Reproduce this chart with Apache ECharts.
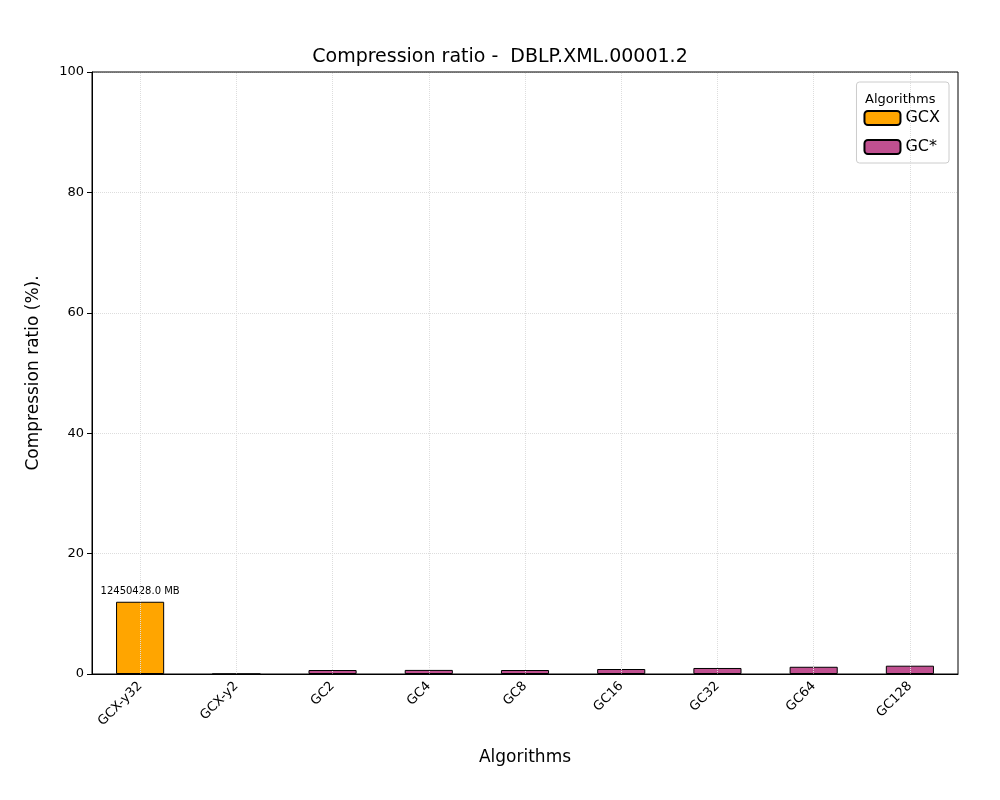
<!DOCTYPE html>
<html>
<head>
<meta charset="utf-8">
<script src="https://cdn.jsdelivr.net/npm/echarts@6/dist/echarts.min.js"></script>
<style>html,body{margin:0;padding:0;background:#fff}#main{width:1000px;height:800px}</style>
</head>
<body>
<div id="main"></div>
<script>
var categories = ['GCX-y32','GCX-y2','GC2','GC4','GC8','GC16','GC32','GC64','GC128'];
var gcxValues = [12.0, 0, '-', '-', '-', '-', '-', '-', '-'];
var gcStarValues = ['-', '-', 0.66, 0.68, 0.66, 0.83, 1.0, 1.2, 1.38];
var barLabels = ['12450428.0 MB', '', '', '', '', '', '', '', ''];

var chart = echarts.init(document.getElementById('main'));
var font = 'DejaVu Sans';
chart.setOption({
    textStyle: {fontFamily: font},
    animation: false,
    title: [
        {text: 'Compression ratio -  DBLP.XML.00001.2', left: 'center', top: 43,
         textStyle: {fontSize: 19, fontWeight: 'normal', color: '#000', fontFamily: font}},
        {text: 'Algorithms', left: 860, top: 88,
         textStyle: {fontSize: 13, fontWeight: 'normal', color: '#000', fontFamily: font}}
    ],
    legend: {
        right: 51, top: 82, orient: 'vertical', itemWidth: 36, itemHeight: 14, itemGap: 13,
        padding: [28, 9, 8, 7], borderColor: '#ccc', borderWidth: 1, borderRadius: 3,
        textStyle: {fontSize: 16, color: '#000', fontFamily: font},
        data: ['GCX', 'GC*']
    },
    grid: {left: 92, right: 42, top: 72, bottom: 126},
    xAxis: {
        type: 'category', data: categories,
        name: 'Algorithms', nameLocation: 'middle', nameGap: 75,
        nameTextStyle: {fontSize: 17, color: '#000'},
        axisLine: {lineStyle: {color: '#000'}},
        axisTick: {alignWithLabel: true, lineStyle: {color: '#000'}},
        axisLabel: {rotate: 45, color: '#000', fontSize: 13, margin: 10},
        splitLine: {show: false}
    },
    yAxis: {
        type: 'value', min: 0, max: 100, interval: 20,
        name: 'Compression ratio (%).', nameLocation: 'middle', nameGap: 50,
        nameTextStyle: {fontSize: 17, color: '#000'},
        axisLine: {show: true, lineStyle: {color: '#000'}},
        axisTick: {show: true, lineStyle: {color: '#000'}},
        axisLabel: {color: '#000', fontSize: 13},
        splitLine: {lineStyle: {color: '#ddd', type: 'dotted'}}
    },
    graphic: [{type: 'rect', shape: {x: 92, y: 72, width: 866, height: 602},
               style: {fill: 'none', stroke: '#000', lineWidth: 1}, z: 100, silent: true}],
    series: [
        {name: 'GCX', type: 'bar', stack: 'a', barWidth: '50%', data: gcxValues,
         itemStyle: {color: '#FFA500', borderColor: '#000', borderWidth: 1},
         label: {show: true, position: 'top', fontSize: 10, color: '#000',
                 formatter: function (p) { return barLabels[p.dataIndex]; }},
         markLine: {silent: true, symbol: 'none', label: {show: false},
                    lineStyle: {color: '#ddd', type: 'dotted', width: 1},
                    data: categories.map(function (c) { return {xAxis: c}; })}},
        {name: 'GC*', type: 'bar', stack: 'a', barWidth: '50%', data: gcStarValues,
         itemStyle: {color: '#C05090', borderColor: '#000', borderWidth: 1}}
    ]
});
</script>
</body>
</html>
